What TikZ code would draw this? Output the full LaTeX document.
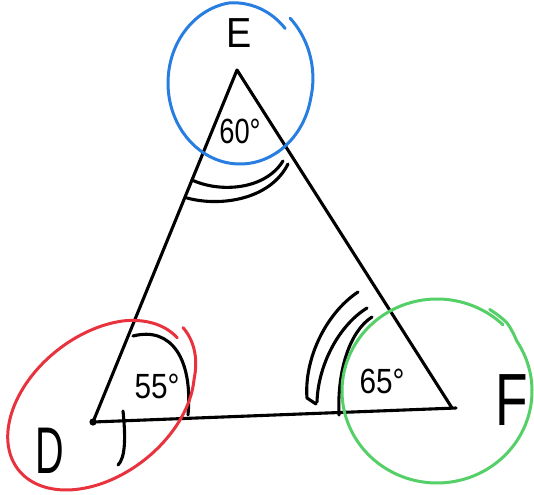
\documentclass[tikz,border=0pt]{standalone}
\usepackage{fontspec}
\setmainfont{Liberation Sans}
\definecolor{ringblue}{RGB}{40,125,225}
\definecolor{ringred}{RGB}{232,50,62}
\definecolor{ringgreen}{RGB}{85,208,104}
\begin{document}
\begin{tikzpicture}[x=1pt,y=-1pt,line cap=round,line join=round,
  edge/.style={line width=3.1pt,black},
  anglemark/.style={line width=3.1pt,black},
  ring/.style={line width=3pt},
  vlabel/.style={inner sep=0pt,text=black},
  anglabel/.style={inner sep=0pt,text=black,font=\fontsize{35}{35}\selectfont}]
\useasboundingbox (0,0) rectangle (534,494);
% vertices
\coordinate (E) at (237,70);
\coordinate (D) at (93,422);
\coordinate (F) at (452,408);
\coordinate (Fend) at (456,408);
% triangle
\draw[edge] (D) -- (E) -- (F);
\draw[edge] (D) -- (Fend);
\fill (D) circle (3.6);
% vertex labels
\node[vlabel,font=\fontsize{42}{42}\selectfont,xscale=0.9] (lE) at (239,33) {E};
\node[vlabel,font=\fontsize{66}{66}\selectfont,xscale=0.6] (lD) at (50,451) {D};
\node[vlabel,font=\fontsize{74}{74}\selectfont,xscale=0.72] (lF) at (512,400) {F};
% angle labels
\node[anglabel,xscale=0.78] (a60) at (240,131) {60°};
\node[anglabel,xscale=0.85] (a55) at (157,386) {55°};
\node[anglabel,xscale=0.85] (a65) at (382,381) {65°};
% angle marks at D
\draw[anglemark] (188,415) .. controls (193,360) and (172,326) .. (133,336);
\draw[anglemark] (123,411) .. controls (126,440) and (125,458) .. (118,465);
% angle marks at E
\draw[anglemark] (192,180) .. controls (220,193) and (265,190) .. (283,161);
\draw[anglemark] (187,198) .. controls (220,207) and (270,200) .. (288,164);
% angle marks at F
\draw[anglemark] (358,292) .. controls (325,314) and (304,360) .. (307,398) -- (316,404);
\draw[anglemark] (367,308) .. controls (338,326) and (318,366) .. (317,402);
\draw[anglemark] (372,317) .. controls (350,331) and (337,370) .. (339,415);
% rings
\draw[ring,ringblue] plot[domain=0:362,samples=140,smooth]
  ({240+72*(1+0.06*max(0,(60-\x)/60)-0.08*max(0,(\x-310)/52))*cos(49-\x)},
   {83-81*(1+0.06*max(0,(60-\x)/60)-0.08*max(0,(\x-310)/52))*sin(49-\x)});
\draw[ring,ringgreen] plot[domain=0:372,samples=150,smooth]
  ({437+95*(1+0.045*min(1,max(0,(25-\x)/12)))*cos(58-\x)},
   {391-92*(1+0.045*min(1,max(0,(25-\x)/12)))*sin(58-\x)});
\begin{scope}[shift={(101,405)},rotate=38]
\draw[ring,ringred] plot[domain=0:363,samples=140,smooth]
  ({105*(1+0.08*max(0,(40-\x)/40)-0.03*max(0,(\x-320)/43))*cos(8-\x)},
   {-70*(1+0.08*max(0,(40-\x)/40)-0.03*max(0,(\x-320)/43))*sin(8-\x)});
\end{scope}
\end{tikzpicture}
\end{document}
